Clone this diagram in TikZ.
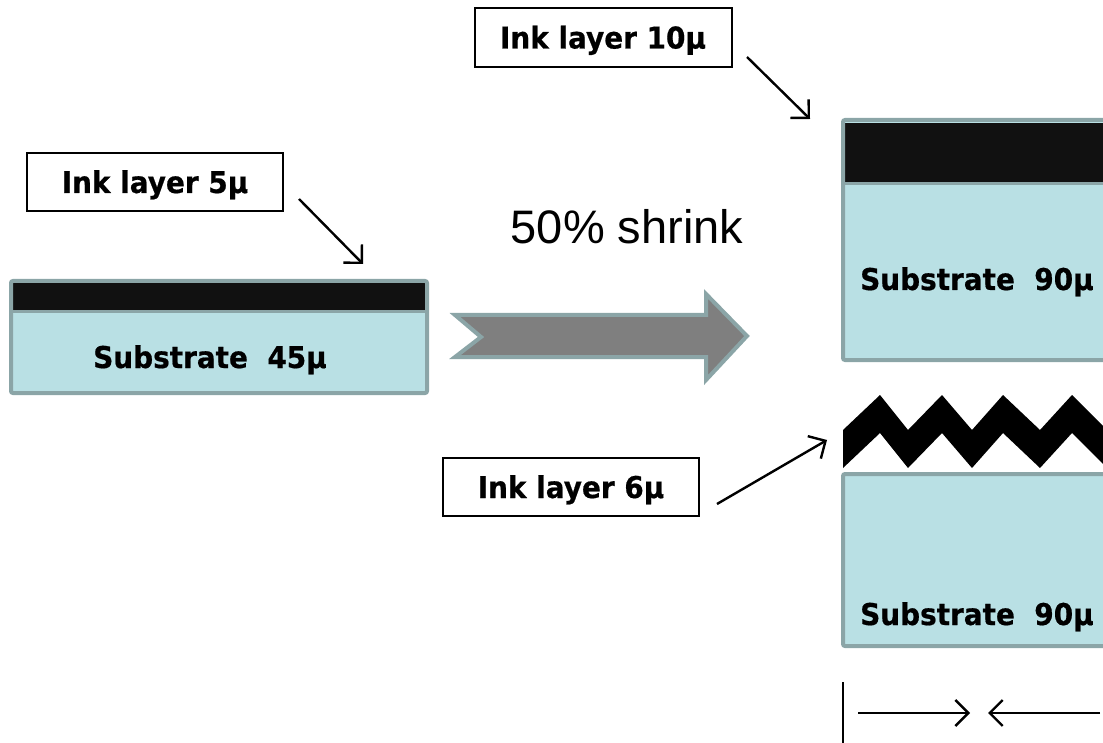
\documentclass[tikz,border=0pt]{standalone}
\usepackage{fontspec}
\setmainfont{DejaVu Sans}
\newfontfamily\arialf{Liberation Sans}
\newfontfamily\tah[FakeStretch=0.93,FakeBold=0.6]{DejaVu Sans Bold}
\usetikzlibrary{arrows.meta}
\definecolor{edgec}{HTML}{8BA5A7}
\definecolor{subc}{HTML}{B9E0E4}
\definecolor{inkc}{HTML}{111111}
\definecolor{bigarr}{HTML}{7F7F7F}
\tikzset{
  lbl/.style={draw=black, line width=2pt, minimum width=256pt, minimum height=58pt,
    inner sep=0pt, text height=22pt, text depth=0pt, font=\tah\fontsize{30}{34}\selectfont},
  ptr/.style={line width=2.4pt, -{Straight Barb[length=13pt,width=26pt,line width=2.4pt]}},
  subtext/.style={inner sep=0pt, font=\tah\fontsize{30}{34}\selectfont},
  layer/.style={draw=edgec, line width=4pt, rounded corners=2pt},
  divider/.style={draw=edgec, line width=3pt},
}
\begin{document}
\begin{tikzpicture}[x=1pt,y=-1pt]
\useasboundingbox (0,0) rectangle (1103,743);
\clip (0,0) rectangle (1103,743);

% left sample
\fill[subc] (11,281) rectangle (427,393);
\fill[inkc] (13,283) rectangle (425,311);
\draw[divider] (11,312) -- (427,312);
\draw[layer] (11,281) rectangle (427,393);
\node[subtext, anchor=base] (sub45) at (210,368) {Substrate\ \ 45µ};

% top right sample
\fill[subc] (843,120) rectangle (1115,360);
\fill[inkc] (845,123) rectangle (1115,183);
\draw[divider] (843,184) -- (1115,184);
\draw[layer] (843,120) rectangle (1115,360);
\node[subtext, anchor=base west] (sub90a) at (860,290) {Substrate\ \ 90µ};

% bottom right sample
\fill[subc] (843,474) rectangle (1115,646);
\draw[layer] (843,474) rectangle (1115,646);
\node[subtext, anchor=base west] (sub90b) at (860,625) {Substrate\ \ 90µ};

% wrinkled ink layer
\fill[black] (843,430) -- (880,395) -- (908,430) -- (942,395) -- (972,430) -- (1003,395)
  -- (1040,430) -- (1072,395) -- (1110,433) -- (1110,471) -- (1072,433) -- (1040,468)
  -- (1003,433) -- (972,468) -- (942,433) -- (908,468) -- (880,433) -- (843,468) -- cycle;

% big arrow
\draw[draw=edgec, line width=4pt, fill=bigarr, line join=miter]
  (455,315) -- (706,315) -- (706,294) -- (747,336) -- (706,380) -- (706,357)
  -- (455,357) -- (481,337) -- cycle;
\node[inner sep=0pt, font=\arialf\fontsize{47}{52}\selectfont] (shrink) at (627,227) {50\% shrink};

% labels
\node[lbl] (lbl5) at (155,182) {Ink layer 5µ};
\node[lbl, minimum width=257pt, minimum height=59pt] (lbl10) at (603,37.5) {Ink layer 10µ};
\node[lbl] (lbl6) at (571,487) {Ink layer 6µ};

\coordinate (a5s) at (299,199);
\coordinate (a5e) at (363,264);
\draw[ptr] (a5s) -- (a5e);
\coordinate (a10s) at (747,57);
\coordinate (a10e) at (810,119);
\draw[ptr] (a10s) -- (a10e);
\coordinate (a6s) at (717,504);
\coordinate (a6e) at (827,440);
\draw[ptr] (a6s) -- (a6e);

% bottom marker
\coordinate (vt) at (843,682);
\coordinate (vb) at (843,745);
\draw[line width=2.4pt] (vt) -- (vb);
\coordinate (r1) at (858,713);
\coordinate (r2) at (970,713);
\coordinate (l1) at (1100,713);
\coordinate (l2) at (988,713);
\draw[ptr] (r1) -- (r2);
\draw[ptr] (l1) -- (l2);
\end{tikzpicture}
\end{document}
